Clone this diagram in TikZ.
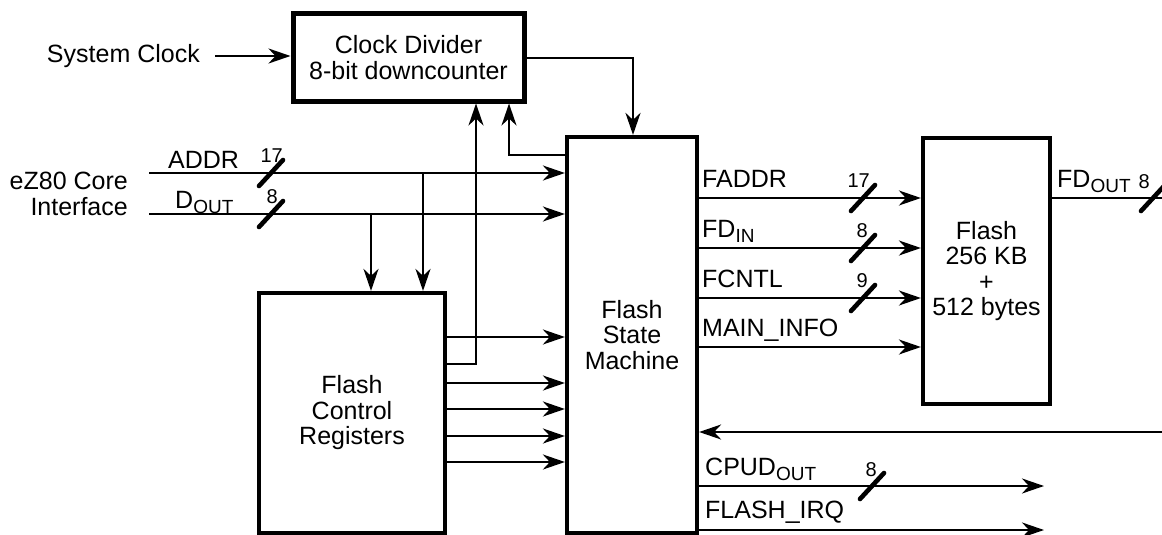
\documentclass[tikz,border=0pt]{standalone}
\usepackage{fontspec}
\setmainfont{Liberation Sans}
\usetikzlibrary{arrows.meta}
\newcommand\sbs[1]{\raisebox{-0.45ex}{\fontsize{19}{19}\selectfont #1}}
\begin{document}
\begin{tikzpicture}[x=1pt,y=-1pt,
  box/.style={draw, line width=4.2pt, inner sep=0pt, align=center, font=\fontsize{25}{25.5}\selectfont},
  sig/.style={line width=2.5pt, -{Stealth[length=22pt,width=15pt,inset=7pt]}},
  wire/.style={line width=2.5pt},
  txt/.style={inner sep=0pt, font=\fontsize{25}{25.5}\selectfont},
  lbl/.style={txt, anchor=base west},
  num/.style={anchor=base east, inner sep=0pt, font=\fontsize{20}{20}\selectfont},
  busmark/.style={line width=4.6pt, line cap=round}]
\useasboundingbox (0,0) rectangle (1162,535);

% boxes
\node[box, line width=5pt, minimum width=231pt, minimum height=87pt] (clk) at (408.5,57.5) {Clock Divider\\8-bit downcounter};
\node[box, minimum width=130pt, minimum height=396pt] (fsm) at (632,335) {\raisebox{4pt}{\parbox{120pt}{\centering Flash\\State\\Machine}}};
\node[box, minimum width=186pt, minimum height=240pt] (fcr) at (352,413) {Flash\\Control\\Registers};
\node[box, minimum width=127pt, minimum height=266pt] (flash) at (986.5,271) {Flash\\256 KB\\+\\512 bytes};

% system clock
\node[txt, anchor=east] (sysclk) at (200,56) {System Clock};
\draw[sig] ([xshift=15pt]sysclk.east) -- (clk.west |- sysclk.east);

% eZ80 interface
\node[txt, anchor=east, align=right] (ez) at (128,194) {eZ80 Core\\Interface};
\coordinate (a0) at (149,173);
\coordinate (d0) at (149,214);
\draw[sig] (a0) -- (a0 -| fsm.west);
\draw[sig] (d0) -- (d0 -| fsm.west);
\node[lbl] (addrl) at (168,168) {ADDR};
\node[lbl] (doutl) at (175,208) {D\sbs{OUT}};
\draw[busmark] (271,173) ++(-12,13) -- ++(24,-26);
\draw[busmark] (271,214) ++(-12,13) -- ++(24,-26);
\node[num] (n17a) at (283,162) {17};
\node[num] (n8a) at (278,203) {8};

% taps to registers
\coordinate (j1) at (423,173);
\coordinate (j2) at (371,214);
\draw[sig] (j1) -- (j1 |- fcr.north);
\draw[sig] (j2) -- (j2 |- fcr.north);

% feedback to clock divider
\coordinate (u1) at (509,155);
\coordinate (u2) at (476,364);
\draw[sig] (u1 -| fsm.west) -- (u1) -- (u1 |- clk.south);
\draw[sig] (u2 -| fcr.east) -- (u2) -- (u2 |- clk.south);

% clock divider to FSM
\coordinate (c1) at (633,58);
\draw[sig] (c1 -| clk.east) -- (c1) -- (c1 |- fsm.north);

% registers to FSM
\foreach \yy in {337,383,409,436,462}
  \draw[sig] (fcr.east |- 0,\yy) -- (fsm.west |- 0,\yy);

% FSM to flash
\foreach \yy in {198,248,298,347}
  \draw[sig] (fsm.east |- 0,\yy) -- (flash.west |- 0,\yy);
\node[lbl] (faddr) at (702,187) {FADDR};
\node[lbl] (fdin) at (702,237) {FD\sbs{IN}};
\node[lbl] (fcntl) at (702,287) {FCNTL};
\node[lbl] (mainfo) at (702,336) {MAIN\_INFO};
\draw[busmark] (863,198) ++(-12,13) -- ++(24,-26);
\draw[busmark] (863,248) ++(-12,13) -- ++(24,-26);
\draw[busmark] (863,298) ++(-12,13) -- ++(24,-26);
\node[num] (n17b) at (870,187) {17};
\node[num] (n8b) at (868,237) {8};
\node[num] (n9b) at (868,287) {9};

% flash output
\coordinate (fo) at (1175,198);
\draw[wire] (flash.east |- fo) -- (fo);
\node[lbl] (fdout) at (1057,187) {FD\sbs{OUT}};
\draw[busmark] (1153,198) ++(-12,13) -- ++(24,-26);
\node[num] (n8c) at (1150,188) {8};

% return path
\coordinate (fb) at (1175,432);
\draw[sig] (fb) -- (fb -| fsm.east);

% outputs
\coordinate (cp) at (1044,486);
\coordinate (irq) at (1044,530);
\draw[sig] (cp -| fsm.east) -- (cp);
\draw[sig] (irq -| fsm.east) -- (irq);
\node[lbl] (cpul) at (705,475) {CPUD\sbs{OUT}};
\node[lbl] (irql) at (705,518) {FLASH\_IRQ};
\draw[busmark] (872,486) ++(-12,13) -- ++(24,-26);
\node[num] (n8d) at (877,476) {8};
\end{tikzpicture}
\end{document}
